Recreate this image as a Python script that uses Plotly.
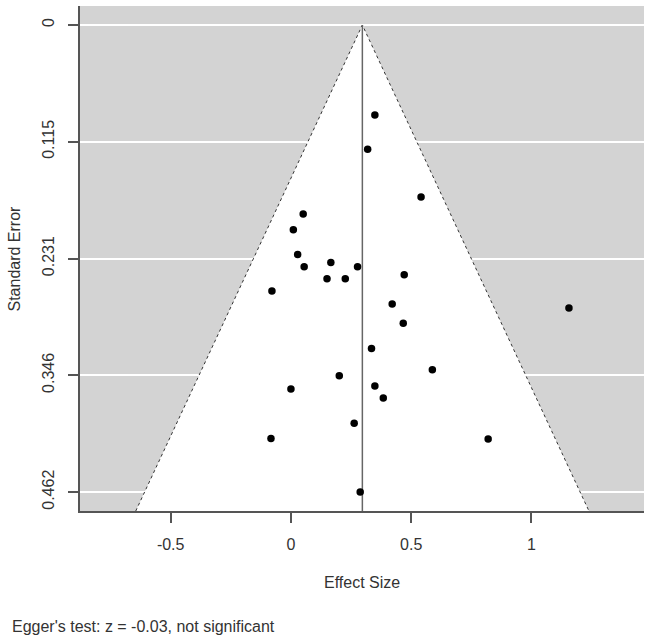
import plotly.graph_objects as go

# study effect sizes and standard errors
effect = [0.349, 0.319, 0.541, 0.051, 0.010, 0.028, 0.055, 0.166, 0.277, 0.150,
          0.226, 0.471, -0.079, 0.421, 1.156, 0.467, 0.335, 0.201, 0.588, 0.349,
          0.384, 0.263, 0.820, 0.288, 0.000, -0.083]
se = [0.089, 0.123, 0.170, 0.187, 0.2025, 0.227, 0.239, 0.235, 0.239, 0.251,
      0.251, 0.247, 0.263, 0.276, 0.280, 0.295, 0.320, 0.347, 0.341, 0.357,
      0.369, 0.394, 0.4095, 0.462, 0.360, 0.409]

pooled = 0.297
z_crit = 1.96
se_ticks = [0, 0.1155, 0.231, 0.3465, 0.462]
se_ticktext = ['0', '0.115', '0.231', '0.346', '0.462']
es_ticks = [-0.5, 0, 0.5, 1]
es_ticktext = ['-0.5', '0', '0.5', '1']

se_range = [0.4807, -0.0188]
es_range = [-0.877, 1.468]

se_bot = se_range[0]
funnel_x = [pooled - z_crit * se_bot, pooled, pooled + z_crit * se_bot]
funnel_y = [se_bot, 0, se_bot]

font = 'Liberation Sans, Arial, sans-serif'
txt = '#333333'

fig = go.Figure()

# white pseudo-confidence region
fig.add_trace(go.Scatter(x=funnel_x, y=funnel_y, fill='toself', fillcolor='white',
                         mode='none', hoverinfo='skip', showlegend=False))
# dotted funnel edges
fig.add_trace(go.Scatter(x=funnel_x, y=funnel_y, mode='lines',
                         line={'color': '#333333', 'width': 1, 'dash': 'dot'},
                         hoverinfo='skip', showlegend=False))
# line at pooled estimate
fig.add_trace(go.Scatter(x=[pooled, pooled], y=[0, se_bot], mode='lines',
                         line={'color': '#666666', 'width': 1.5},
                         hoverinfo='skip', showlegend=False))
# studies
fig.add_trace(go.Scatter(x=effect, y=se, mode='markers',
                         marker={'color': 'black', 'size': 7.5},
                         showlegend=False))

fig.update_layout(
    width=645, height=637,
    margin=dict(l=80, r=1, t=6, b=126),
    plot_bgcolor='#d3d3d3',
    paper_bgcolor='white',
    font=dict(family=font, size=16, color=txt),
    annotations=[
        dict(text='Effect Size', xref='paper', yref='paper', x=0.5, y=-0.1406,
             xanchor='center', yanchor='middle', showarrow=False,
             font=dict(family=font, size=16, color=txt)),
        dict(text='Standard Error', xref='paper', yref='paper', x=-0.117, y=0.5,
             xanchor='center', yanchor='middle', showarrow=False, textangle=-90,
             font=dict(family=font, size=16, color=txt)),
        dict(text="Egger's test: z = -0.03, not significant", xref='paper', yref='paper',
             x=-0.124, y=-0.2297, xanchor='left', yanchor='middle', showarrow=False,
             font=dict(family=font, size=16, color=txt)),
    ],
)

fig.update_xaxes(range=es_range, tickvals=es_ticks, ticktext=es_ticktext,
                 showgrid=False, zeroline=False, showline=True, linecolor='#555555',
                 linewidth=1.5, ticks='outside', ticklen=10, tickcolor='#555555',
                 tickwidth=1.5, ticklabelstandoff=8)
fig.update_yaxes(range=se_range, tickvals=se_ticks, ticktext=se_ticktext,
                 showgrid=True, gridcolor='white', gridwidth=1.5, zeroline=False,
                 showline=True, linecolor='#555555', linewidth=1.5,
                 ticks='outside', ticklen=10, tickcolor='#555555', tickwidth=1.5,
                 tickangle=-90, ticklabelstandoff=8)

# drop the page's default body margin so the figure sits at the window origin
fig.write_html("out.html", config={'displayModeBar': False},
               post_script="document.body.style.margin='0';")
